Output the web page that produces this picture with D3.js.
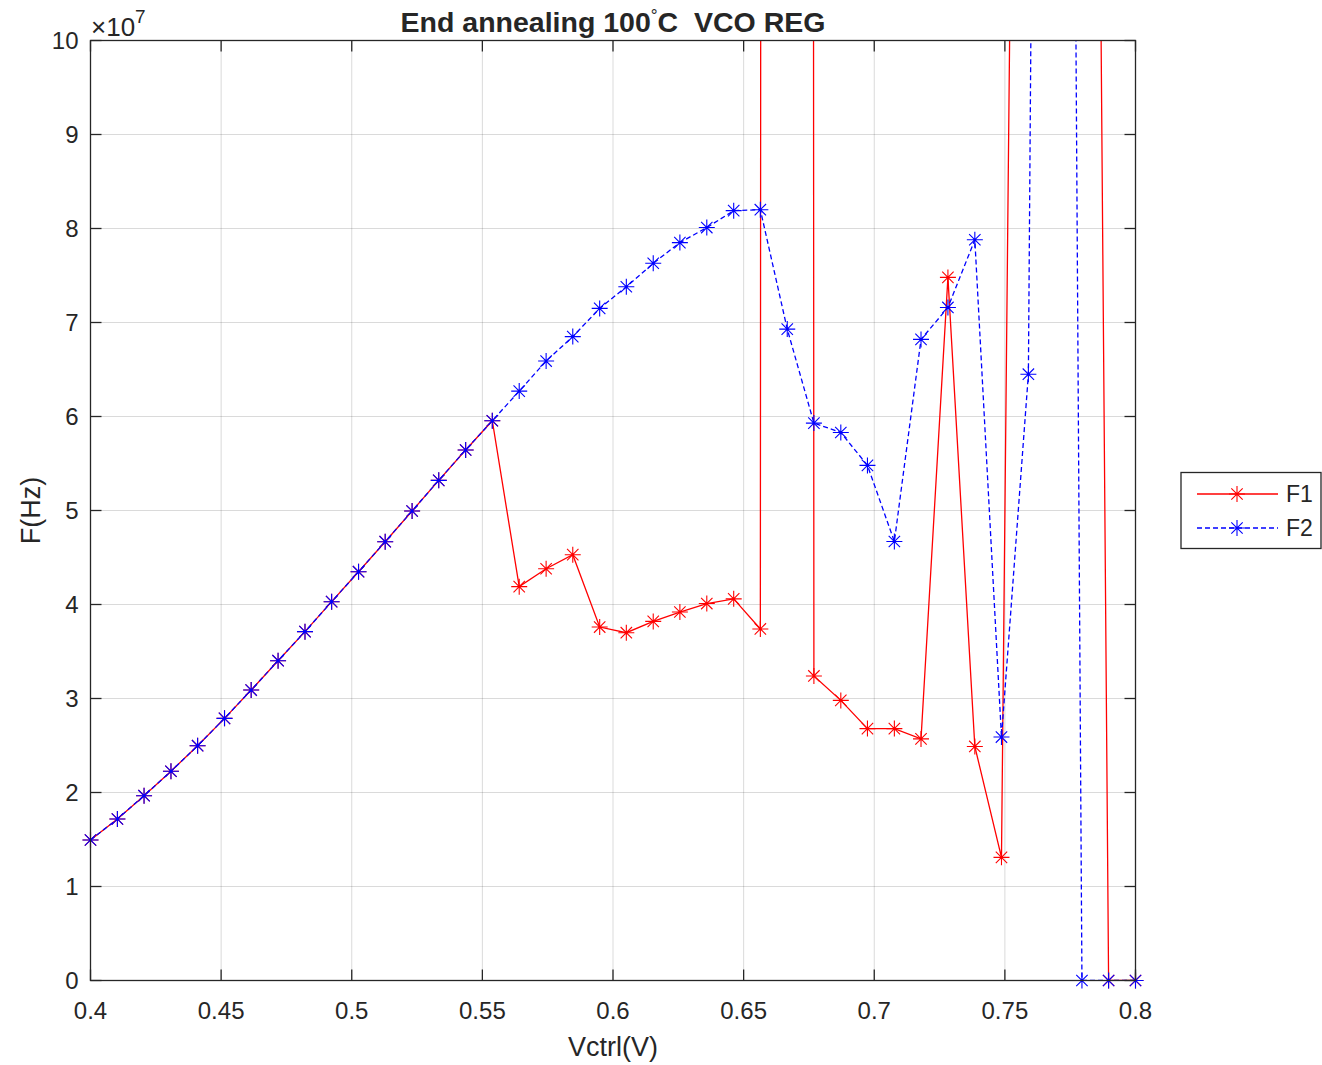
<!DOCTYPE html>
<html>
<head>
<meta charset="utf-8">
<script src="https://cdn.jsdelivr.net/npm/d3@7"></script>
<style>
  body { margin: 0; background: #fff; }
  text { font-family: "Liberation Sans", Arial, sans-serif; fill: #262626; white-space: pre; }
</style>
</head>
<body>
<div id="chart"></div>
<script>
// Vctrl sweep (V)
const vctrl = [0.4000, 0.4103, 0.4205, 0.4308, 0.4410, 0.4513, 0.4615, 0.4718, 0.4821, 0.4923,
               0.5026, 0.5128, 0.5231, 0.5333, 0.5436, 0.5538, 0.5641, 0.5744, 0.5846, 0.5949,
               0.6051, 0.6154, 0.6256, 0.6359, 0.6462, 0.6564, 0.6667, 0.6769, 0.6872, 0.6974,
               0.7077, 0.7179, 0.7282, 0.7385, 0.7487, 0.7590, 0.7692, 0.7795, 0.7897, 0.8000];

// frequencies in units of 1e7 Hz
const f1 = [1.495, 1.718, 1.966, 2.226, 2.498, 2.789, 3.090, 3.402, 3.711, 4.030,
            4.349, 4.668, 4.995, 5.321, 5.644, 5.955, 4.19, 4.38, 4.53, 3.76,
            3.70, 3.82, 3.92, 4.01, 4.06, 3.74, 500, 3.24, 2.98, 2.68,
            2.68, 2.57, 7.48, 2.49, 1.31, 30.1, 36, 35.7, 0, 0];

const f2 = [1.495, 1.718, 1.966, 2.226, 2.498, 2.789, 3.090, 3.402, 3.711, 4.030,
            4.349, 4.668, 4.995, 5.321, 5.644, 5.955, 6.27, 6.59, 6.85, 7.15,
            7.38, 7.63, 7.85, 8.01, 8.19, 8.20, 6.93, 5.93, 5.83, 5.48,
            4.67, 6.82, 7.16, 7.88, 2.59, 6.45, 45, 0, 0, 0];

const xTicks = [0.4, 0.45, 0.5, 0.55, 0.6, 0.65, 0.7, 0.75, 0.8];
const yTicks = [0, 1, 2, 3, 4, 5, 6, 7, 8, 9, 10];

const width = 1322;
const height = 1065;
const margin = {left: 90.5, right: 186.5, top: 40.5, bottom: 84.5};
const axisColor = "#262626";

const svg = d3.select("#chart")
  .append("svg")
  .attr("width", width)
  .attr("height", height);

svg.append("rect").attr("width", width).attr("height", height).attr("fill", "#fff");

const xScale = d3.scaleLinear()
  .domain([0.4, 0.8])
  .range([margin.left, width - margin.right]);

const yScale = d3.scaleLinear()
  .domain([0, 10])
  .range([height - margin.bottom, margin.top]);

const x0 = margin.left, x1 = width - margin.right;
const y0 = height - margin.bottom, y1 = margin.top;

// grid
svg.append("g")
  .selectAll("line")
  .data(xTicks.slice(1, -1))
  .join("line")
    .attr("x1", d => xScale(d)).attr("x2", d => xScale(d))
    .attr("y1", y0).attr("y2", y1)
    .attr("stroke", axisColor).attr("stroke-opacity", 0.17);

svg.append("g")
  .selectAll("line")
  .data(yTicks.slice(1, -1))
  .join("line")
    .attr("y1", d => yScale(d)).attr("y2", d => yScale(d))
    .attr("x1", x0).attr("x2", x1)
    .attr("stroke", axisColor).attr("stroke-opacity", 0.17);

// data lines
svg.append("clipPath").attr("id", "plotclip")
  .append("rect")
    .attr("x", x0).attr("y", y1)
    .attr("width", x1 - x0).attr("height", y0 - y1);

const line = d3.line()
  .x((d, i) => xScale(vctrl[i]))
  .y(d => yScale(d));

const starPath = "M-8,0H8M0,-8V8M-5.7,-5.7L5.7,5.7M-5.7,5.7L5.7,-5.7";

function drawSeries(values, color, dash) {
  const g = svg.append("g");
  g.append("path")
    .datum(values)
    .attr("clip-path", "url(#plotclip)")
    .attr("fill", "none")
    .attr("stroke", color)
    .attr("stroke-width", 1.3)
    .attr("stroke-dasharray", dash)
    .attr("d", line);

  const pts = values.map((v, i) => ({x: vctrl[i], y: v})).filter(p => p.y >= 0 && p.y <= 10);
  g.selectAll("path.mk")
    .data(pts)
    .join("path")
      .attr("class", "mk")
      .attr("transform", d => `translate(${xScale(d.x)},${yScale(d.y)})`)
      .attr("d", starPath)
      .attr("fill", "none")
      .attr("stroke", color)
      .attr("stroke-width", 1.1);
}

drawSeries(f1, "#ff0000", null);
drawSeries(f2, "#0000ff", "5,3");

// axes box with ticks on all sides
const axG = svg.append("g");
axG.append("rect")
  .attr("x", x0).attr("y", y1)
  .attr("width", x1 - x0).attr("height", y0 - y1)
  .attr("fill", "none").attr("stroke", axisColor).attr("stroke-width", 1.3);

const tickLen = 11;
axG.selectAll("line.xt")
  .data(xTicks)
  .join("g")
  .each(function(d) {
    const g = d3.select(this);
    g.append("line").attr("x1", xScale(d)).attr("x2", xScale(d))
      .attr("y1", y0).attr("y2", y0 - tickLen).attr("stroke", axisColor).attr("stroke-width", 1.3);
    g.append("line").attr("x1", xScale(d)).attr("x2", xScale(d))
      .attr("y1", y1).attr("y2", y1 + tickLen).attr("stroke", axisColor).attr("stroke-width", 1.3);
  });

axG.selectAll("line.yt")
  .data(yTicks)
  .join("g")
  .each(function(d) {
    const g = d3.select(this);
    g.append("line").attr("y1", yScale(d)).attr("y2", yScale(d))
      .attr("x1", x0).attr("x2", x0 + tickLen).attr("stroke", axisColor).attr("stroke-width", 1.3);
    g.append("line").attr("y1", yScale(d)).attr("y2", yScale(d))
      .attr("x1", x1).attr("x2", x1 - tickLen).attr("stroke", axisColor).attr("stroke-width", 1.3);
  });

// tick labels
svg.append("g")
  .selectAll("text")
  .data(xTicks)
  .join("text")
    .attr("x", d => xScale(d))
    .attr("y", y0 + 38)
    .attr("text-anchor", "middle")
    .attr("font-size", "24px")
    .text(d => d3.format("~g")(d));

svg.append("g")
  .selectAll("text")
  .data(yTicks)
  .join("text")
    .attr("x", x0 - 12)
    .attr("y", d => yScale(d) + 8)
    .attr("text-anchor", "end")
    .attr("font-size", "24px")
    .text(d => d);

// exponent
const ex = svg.append("text")
  .attr("x", 91).attr("y", 36)
  .attr("font-size", "26px");
ex.append("tspan").text("\u00d710");
ex.append("tspan").attr("dy", -13).attr("font-size", "19px").text("7");

// labels and title
svg.append("text")
  .attr("x", (x0 + x1) / 2).attr("y", 1056)
  .attr("text-anchor", "middle")
  .attr("font-size", "27px")
  .text("Vctrl(V)");

svg.append("text")
  .attr("transform", `translate(40,${(y0 + y1) / 2}) rotate(-90)`)
  .attr("text-anchor", "middle")
  .attr("font-size", "27px")
  .text("F(Hz)");

const title = svg.append("text")
  .attr("x", (x0 + x1) / 2).attr("y", 32)
  .attr("text-anchor", "middle")
  .attr("font-size", "28.5px")
  .attr("font-weight", "bold")
  .attr("fill", "#000");
title.append("tspan").text("End annealing 100");
title.append("tspan").attr("dy", -11).attr("font-size", "17px").attr("font-weight", "normal").text("\u00b0");
title.append("tspan").attr("dy", 11).text("C  VCO REG");

// legend
const leg = svg.append("g");
leg.append("rect")
  .attr("x", 1181).attr("y", 472.5)
  .attr("width", 140).attr("height", 76)
  .attr("fill", "#fff").attr("stroke", axisColor).attr("stroke-width", 1.3);

const legItems = [
  {name: "F1", color: "#ff0000", dash: null, y: 494},
  {name: "F2", color: "#0000ff", dash: "5,3", y: 528}
];
legItems.forEach(it => {
  leg.append("line")
    .attr("x1", 1197).attr("x2", 1278)
    .attr("y1", it.y).attr("y2", it.y)
    .attr("stroke", it.color).attr("stroke-width", 1.3)
    .attr("stroke-dasharray", it.dash);
  leg.append("path")
    .attr("transform", `translate(1237,${it.y})`)
    .attr("d", starPath)
    .attr("fill", "none").attr("stroke", it.color).attr("stroke-width", 1.1);
  leg.append("text")
    .attr("x", 1286).attr("y", it.y + 8)
    .attr("font-size", "23px")
    .attr("fill", "#000")
    .text(it.name);
});
</script>
</body>
</html>
